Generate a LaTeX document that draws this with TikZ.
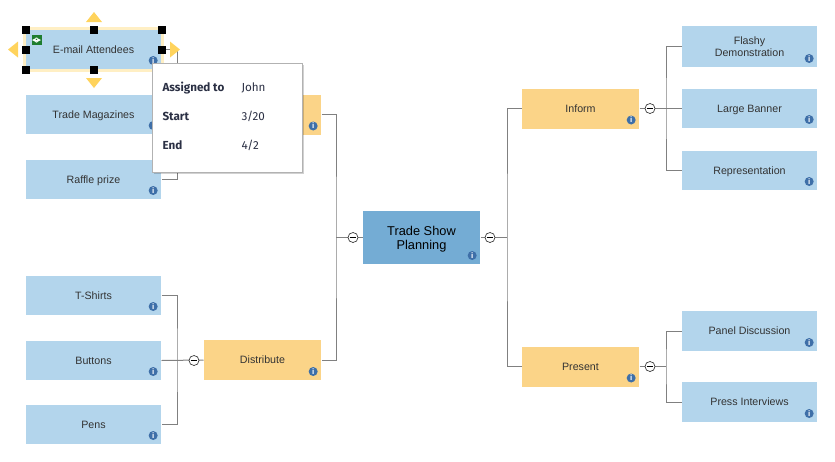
\documentclass[tikz,border=0pt]{standalone}
\usepackage{fontspec}
\setmainfont{Liberation Sans}
\newfontfamily\popupfont{Fira Sans}
\usetikzlibrary{shadows}

\definecolor{leafblue}{HTML}{B3D5EC}
\definecolor{taskorange}{HTML}{FBD488}
\definecolor{rootblue}{HTML}{74ACD4}
\definecolor{infoblue}{HTML}{3E6FA8}
\definecolor{textgrey}{HTML}{333333}
\definecolor{popuptext}{HTML}{2B3044}
\definecolor{linegrey}{HTML}{808080}
\definecolor{arrowyellow}{HTML}{FFD35C}
\definecolor{glowyellow}{HTML}{FFEFC4}
\definecolor{badgegreen}{HTML}{1E7D2F}

\tikzset{every picture/.style={line width=0.75pt},
  mapbox/.style={inner sep=0pt,align=center,text=textgrey,text height=5.9pt,text depth=0pt,font=\fontsize{8}{9.25}\selectfont},
  leafbox/.style={mapbox,fill=leafblue,minimum width=101.25pt,minimum height=29.25pt},
  taskbox/.style={mapbox,fill=taskorange,minimum width=87.75pt,minimum height=30pt},
  rootbox/.style={mapbox,fill=rootblue,text=black,minimum width=87.75pt,minimum height=39.75pt,text height=,text depth=,font=\fontsize{9.6}{10.5}\selectfont},
  connector/.style={draw=linegrey,line width=0.75pt},
  collapsebtn/.style={circle,draw=black!80,fill=white,line width=0.5pt,minimum size=7.5pt,inner sep=0pt},
  infoicon/.style={circle,fill=infoblue,text=white,minimum size=6.75pt,inner sep=0pt,font=\fontsize{6}{6}\selectfont\bfseries},
  handle/.style={fill=black,minimum size=6pt,inner sep=0pt},
  movearrow/.style={fill=arrowyellow,draw=none},
  popup/.style={fill=white,draw=black!30,line width=0.75pt,minimum width=112.5pt,minimum height=81.75pt,inner sep=0pt,
    drop shadow={shadow xshift=1.5pt,shadow yshift=-1.5pt,opacity=.18,fill=black}},
  popuplabel/.style={anchor=west,inner sep=0pt,text=popuptext,text height=6.2pt,text depth=0pt,font=\popupfont\fontsize{8.75}{10}\selectfont\bfseries},
  popupvalue/.style={anchor=west,inner sep=0pt,text=popuptext,text height=6.2pt,text depth=0pt,font=\popupfont\fontsize{8.75}{10}\selectfont}
}

\begin{document}
\begin{tikzpicture}[x=0.75pt,y=0.75pt,yscale=-1,xscale=1]
\useasboundingbox (0,0) rectangle (835,461);

% boxes on the left
\node [leafbox] (email) at (93.5,49.5) {E-mail Attendees};
\node [leafbox] (magazines) at (93.5,114.5) {Trade Magazines};
\node [leafbox] (raffle) at (93.5,179.5) {Raffle prize};
\node [leafbox] (tshirts) at (93.5,295.5) {T-Shirts};
\node [leafbox] (buttons) at (93.5,360.5) {Buttons};
\node [leafbox] (pens) at (93.5,424.5) {Pens};
\node [taskbox] (promote) at (262.5,114.5) {};
\node [taskbox] (distribute) at (262.5,360) {Distribute};

% root
\node [rootbox] (root) at (421.5,237.5) {\rule{0pt}{9.5pt}Trade Show\\Planning};

% boxes on the right
\node [taskbox] (inform) at (580.5,108.5) {Inform};
\node [taskbox] (present) at (580.5,366.5) {Present};
\node [leafbox,minimum height=30.75pt,text height=,text depth=] (flashy) at (749.5,46.5) {Flashy\\Demonstration};
\node [leafbox] (banner) at (749.5,108.5) {Large Banner};
\node [leafbox] (representation) at (749.5,170.5) {Representation};
\node [leafbox,minimum height=30pt] (panel) at (749.5,331) {Panel Discussion};
\node [leafbox,minimum height=30pt] (interviews) at (749.5,402) {Press Interviews};

% trunks
\coordinate (trunkpromote) at (177,114.5);
\coordinate (trunkdistribute) at (177,360.5);
\coordinate (trunkroot) at (336,237.5);
\coordinate (trunkmain) at (507,237.5);
\coordinate (trunkinform) at (666,108.5);
\coordinate (trunkpresent) at (666,366.5);

% connectors
\draw [connector] (email.east) -| (trunkpromote) |- (raffle.east);
\draw [connector] (magazines.east) -- (promote.west);
\draw [connector] (tshirts.east) -| (trunkdistribute) |- (pens.east);
\draw [connector] (buttons.east) -- (distribute.west);
\draw [connector] (promote.east) -| (trunkroot) |- (distribute.east);
\draw [connector] (trunkroot) -- (root.west);
\draw [connector] (root.east) -- (trunkmain);
\draw [connector] (inform.west) -| (trunkmain) |- (present.west);
\draw [connector] (inform.east) -- (banner.west);
\draw [connector] (flashy.west) -| (trunkinform) |- (representation.west);
\draw [connector] (present.east) -- (trunkpresent);
\draw [connector] (panel.west) -| (trunkpresent) |- (interviews.west);

% collapse buttons
\node [collapsebtn] (btnpromote) at (194,114.5) {};
\node [collapsebtn] (btndistribute) at (194,360.5) {};
\node [collapsebtn] (btnrootleft) at (353,237.5) {};
\node [collapsebtn] (btnrootright) at (490,237.5) {};
\node [collapsebtn] (btninform) at (650,108.5) {};
\node [collapsebtn] (btnpresent) at (650,366.5) {};
\foreach \b in {btnpromote,btndistribute,btnrootleft,btnrootright,btninform,btnpresent}
  \draw [line width=0.5pt] ([xshift=1.5pt]\b.west) -- ([xshift=-1.5pt]\b.east);

% info icons
\foreach \n in {email,magazines,raffle,tshirts,buttons,pens,promote,distribute,root,inform,present,flashy,banner,representation,panel,interviews}
  \node [infoicon] (info\n) at ([xshift=-6.25pt,yshift=-6.75pt]\n.south east) {i};

% selection
\draw [glowyellow,line width=2.25pt] ([shift={(-1.1pt,-1.1pt)}]email.north west) rectangle ([shift={(1.1pt,1.1pt)}]email.south east);
\foreach \a in {north west,north,north east,west,east,south west,south,south east}
  \node [handle] (handle \a) at (email.\a) {};
\fill [movearrow] (94,12) -- (102,22) -- (86,22) -- cycle;
\fill [movearrow] (94,88) -- (102,78) -- (86,78) -- cycle;
\fill [movearrow] (8,49.5) -- (18,41.5) -- (18,57.5) -- cycle;
\fill [movearrow] (180,49.5) -- (170,41.5) -- (170,57.5) -- cycle;
\node [fill=badgegreen,minimum size=7.5pt,inner sep=0pt] (badge) at (36.5,40) {};
\draw [white,line width=0.75pt,<->,>=stealth] ([xshift=0.75pt]badge.west) -- ([xshift=-0.75pt]badge.east);

% details popup
\node [popup] (details) at (227,117.5) {};
\node [popuplabel] (assignedlabel) at (162,87) {Assigned to};
\node [popupvalue] (assignedvalue) at (241,87) {John};
\node [popuplabel] (startlabel) at (162,116) {Start};
\node [popupvalue] (startvalue) at (241,116) {3/20};
\node [popuplabel] (endlabel) at (162,145) {End};
\node [popupvalue] (endvalue) at (241,145) {4/2};

\end{tikzpicture}
\end{document}
